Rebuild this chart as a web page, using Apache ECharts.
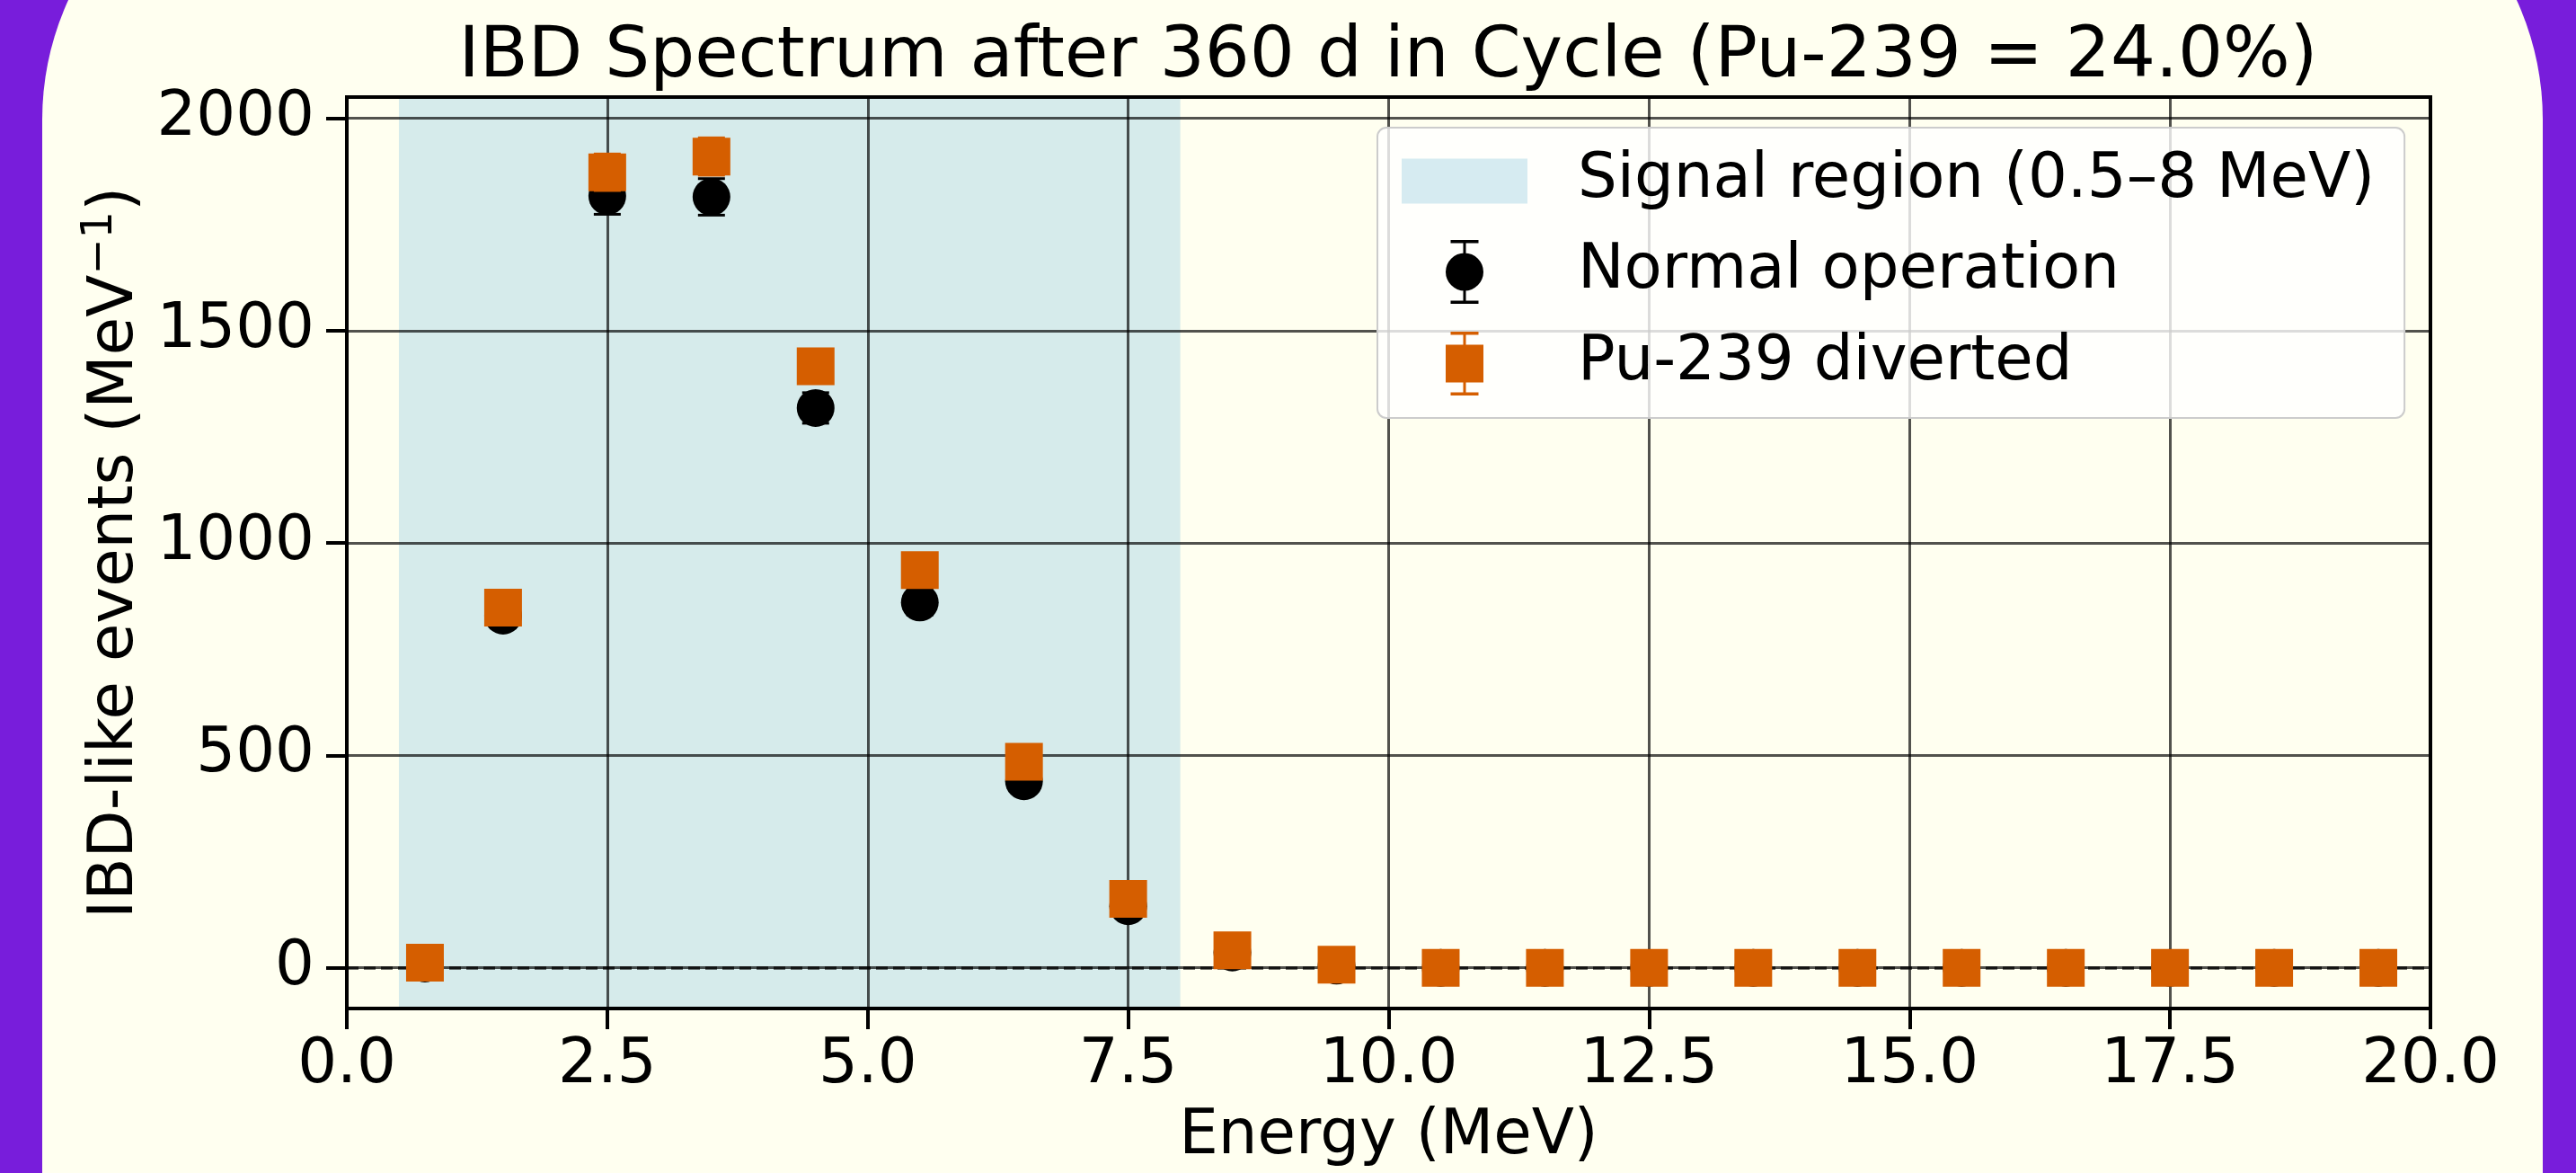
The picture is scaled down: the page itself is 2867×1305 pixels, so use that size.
<!DOCTYPE html>
<html>
<head>
<meta charset="utf-8">
<title>IBD Spectrum</title>
<script src="https://cdn.jsdelivr.net/npm/echarts@6/dist/echarts.min.js"></script>
<style>
    html, body { margin: 0; padding: 0; background: #781ddb; }
    #chart { width: 2867px; height: 1305px; }
</style>
</head>
<body>
<div id="chart"></div>
<script>
// energy bin centres (MeV)
var energy = [0.75, 1.5, 2.5, 3.5, 4.5, 5.5, 6.5, 7.5, 8.5, 9.5,
              10.5, 11.5, 12.5, 13.5, 14.5, 15.5, 16.5, 17.5, 18.5, 19.5];
// normal operation
var normalEvents = [10, 829, 1817, 1815, 1318, 860, 439, 145, 36, 5,
                    0, 0, 0, 0, 0, 0, 0, 0, 0, 0];
var normalErr = [3, 29, 43, 43, 36, 29, 21, 12, 6, 2,
                 0, 0, 0, 0, 0, 0, 0, 0, 0, 0];
// Pu-239 diverted
var divertedEvents = [12, 848, 1873, 1910, 1416, 936, 485, 162, 41, 7,
                      0, 0, 0, 0, 0, 0, 0, 0, 0, 0];
var divertedErr = [3, 29, 43, 44, 38, 31, 22, 13, 6, 3,
                   0, 0, 0, 0, 0, 0, 0, 0, 0, 0];
var signalRange = [0.5, 8];
var xTicks = [0, 2.5, 5, 7.5, 10, 12.5, 15, 17.5, 20];
var yTicks = [0, 500, 1000, 1500, 2000];

var FONT = 'DejaVu Sans';
var FS = 69;
var SIGNAL_NAME = 'Signal region (0.5\u20138 MeV)';
var SIGNAL_COLOR = 'rgba(173,216,230,0.5)';
var ORANGE = '#d55e00';
var GRID_COLOR = 'rgba(0,0,0,0.68)';

// 图例图标：圆点/方块带误差棒
var normalIcon = 'path://M5.5,0H36.5V3.5H5.5Z M5.5,67.5H36.5V71H5.5Z M19.5,0H22.5V71H19.5Z ' +
    'M0,35.5A21,21 0 1,1 42,35.5A21,21 0 1,1 0,35.5Z';
var divertedIcon = 'path://M5.5,0H36.5V3.5H5.5Z M5.5,67.5H36.5V71H5.5Z M19.5,0H22.5V71H19.5Z ' +
    'M0,14.5H42V56.5H0Z';

function points(values) {
    return energy.map(function (e, i) { return [e, values[i]]; });
}
function bars(values, errs) {
    return energy.map(function (e, i) { return [e, values[i] - errs[i], values[i] + errs[i]]; });
}
function errorBarItem(color) {
    return function (params, api) {
        var x = api.value(0);
        var top = api.coord([x, api.value(2)]);
        var bottom = api.coord([x, api.value(1)]);
        var cap = 15;
        var style = { stroke: color, lineWidth: 3 };
        return {
            type: 'group',
            children: [
                { type: 'line', shape: { x1: top[0], y1: top[1], x2: bottom[0], y2: bottom[1] }, style: style },
                { type: 'line', shape: { x1: top[0] - cap, y1: top[1], x2: top[0] + cap, y2: top[1] }, style: style },
                { type: 'line', shape: { x1: bottom[0] - cap, y1: bottom[1], x2: bottom[0] + cap, y2: bottom[1] }, style: style }
            ]
        };
    };
}

var myChart = echarts.init(document.getElementById('chart'));
var option = {
    animation: false,
    backgroundColor: '#781ddb',
    graphic: [{
        type: 'rect',
        z: -100,
        silent: true,
        shape: { x: 47, y: -186, width: 2783, height: 1600, r: [319, 319, 0, 0] },
        style: { fill: '#fffff0' }
    }],
    title: {
        text: 'IBD Spectrum after 360 d in Cycle (Pu-239 = 24.0%)',
        left: 1545,
        top: 25,
        textAlign: 'center',
        padding: 0,
        textStyle: { fontFamily: FONT, fontSize: 78.7, fontWeight: 'normal', color: '#000' }
    },
    legend: {
        orient: 'vertical',
        left: 1533,
        top: 142,
        z: 20,
        padding: [25, 33, 25, 27],
        itemWidth: 140,
        itemHeight: 71,
        itemGap: 31,
        selectedMode: false,
        backgroundColor: 'rgba(255,255,255,0.8)',
        borderColor: '#cccccc',
        borderWidth: 2,
        borderRadius: 10,
        textStyle: { fontFamily: FONT, fontSize: FS, color: '#000', padding: [18, 0, 0, 51] },
        data: [
            { name: SIGNAL_NAME, icon: 'path://M0,0H140V50H0Z', itemStyle: { color: SIGNAL_COLOR } },
            { name: 'Normal operation', icon: normalIcon, itemStyle: { color: '#000' } },
            { name: 'Pu-239 diverted', icon: divertedIcon, itemStyle: { color: ORANGE } }
        ]
    },
    grid: {
        left: 386, right: 162, top: 108, bottom: 182,
        containLabel: false,
        show: true,
        borderColor: '#000',
        borderWidth: 4,
        backgroundColor: 'transparent'
    },
    xAxis: {
        type: 'value',
        min: 0,
        max: 20,
        name: 'Energy (MeV)',
        nameLocation: 'middle',
        nameGap: 109,
        nameTextStyle: { fontFamily: FONT, fontSize: FS, color: '#000' },
        axisLine: { show: true, onZero: false, lineStyle: { color: '#000', width: 4 } },
        axisTick: { show: true, customValues: xTicks, length: 23, lineStyle: { color: '#000', width: 4 } },
        axisLabel: {
            customValues: xTicks,
            margin: 30,
            fontFamily: FONT, fontSize: FS, color: '#000',
            formatter: function (v) { return v.toFixed(1); }
        },
        splitLine: { show: true, lineStyle: { color: GRID_COLOR, width: 3 } }
    },
    yAxis: {
        type: 'value',
        min: -96,
        max: 2050,
        name: '{a|IBD-like events (MeV}{s|\u22121}{a|)}',
        nameLocation: 'middle',
        nameGap: 213,
        nameRotate: 90,
        nameTextStyle: {
            fontFamily: FONT, fontSize: FS, color: '#000',
            rich: {
                a: { fontFamily: FONT, fontSize: FS, color: '#000', lineHeight: 82 },
                s: { fontFamily: FONT, fontSize: 48, color: '#000', lineHeight: 40, verticalAlign: 'top' }
            }
        },
        axisLine: { show: true, lineStyle: { color: '#000', width: 4 } },
        axisTick: { show: true, customValues: yTicks, length: 23, lineStyle: { color: '#000', width: 4 } },
        axisLabel: {
            customValues: yTicks,
            margin: 36,
            fontFamily: FONT, fontSize: FS, color: '#000',
            formatter: function (v) { return String(v); }
        },
        splitLine: { show: true, lineStyle: { color: GRID_COLOR, width: 3 } }
    },
    series: [
        {
            // 信号区间背景
            type: 'custom',
            name: SIGNAL_NAME,
            z: -1,
            silent: true,
            itemStyle: { color: SIGNAL_COLOR },
            encode: { x: [0, 1], y: 2 },
            data: [[signalRange[0], signalRange[1], 0]],
            renderItem: function (params, api) {
                var a = api.coord([api.value(0), 0]);
                var b = api.coord([api.value(1), 0]);
                var cs = params.coordSys;
                return {
                    type: 'rect',
                    shape: { x: a[0], y: cs.y, width: b[0] - a[0], height: cs.height },
                    style: { fill: SIGNAL_COLOR }
                };
            }
        },
        {
            type: 'custom',
            name: 'Normal operation err',
            z: 8,
            silent: true,
            encode: { x: 0, y: [1, 2] },
            data: bars(normalEvents, normalErr),
            renderItem: errorBarItem('#000'),
            markLine: {
                silent: true,
                symbol: 'none',
                label: { show: false },
                lineStyle: { color: 'rgba(0,0,0,0.75)', width: 3.5, type: [13, 6] },
                data: [{ yAxis: 0 }]
            }
        },
        {
            type: 'scatter',
            name: 'Normal operation',
            z: 9,
            symbol: 'circle',
            symbolSize: 42,
            itemStyle: { color: '#000', opacity: 1 },
            data: points(normalEvents)
        },
        {
            type: 'custom',
            name: 'Pu-239 diverted err',
            z: 10,
            silent: true,
            encode: { x: 0, y: [1, 2] },
            data: bars(divertedEvents, divertedErr),
            renderItem: errorBarItem(ORANGE)
        },
        {
            type: 'scatter',
            name: 'Pu-239 diverted',
            z: 11,
            symbol: 'rect',
            symbolSize: 42,
            itemStyle: { color: ORANGE, opacity: 1 },
            data: points(divertedEvents)
        }
    ]
};
myChart.setOption(option);
</script>
</body>
</html>
